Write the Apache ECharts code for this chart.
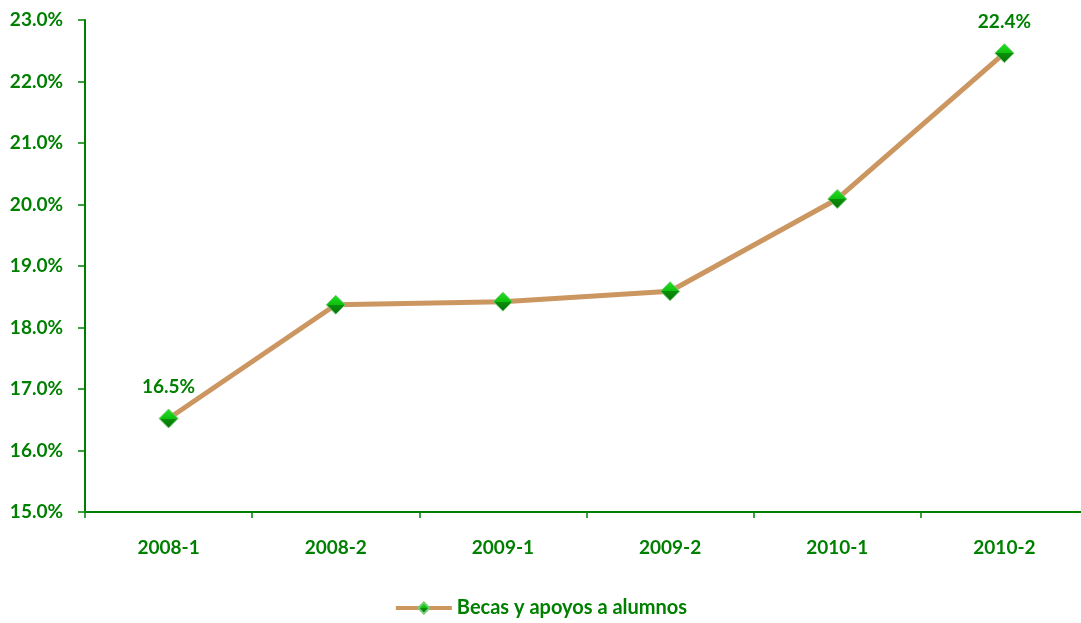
<!DOCTYPE html>
<html><head><meta charset="utf-8">
<script src="https://cdn.jsdelivr.net/npm/echarts@6/dist/echarts.min.js"></script>
<style>html,body{margin:0;padding:0;background:#fff}#c{width:1081px;height:623px}</style>
</head><body><div id="c"></div>
<script>
const categories = ['2008-1','2008-2','2009-1','2009-2','2010-1','2010-2'];
const seriesName = 'Becas y apoyos a alumnos';
const values = [16.52, 18.37, 18.42, 18.59, 20.09, 22.46];
const labeledIdx = [0, 5];

const green = '#008000';
const font = 'Lato';
const chart = echarts.init(document.getElementById('c'));
chart.setOption({
  animation: false,
  grid: { left: 85, top: 20, width: 1003, height: 492, containLabel: false, outerBoundsMode: 'none' },
  legend: {
    bottom: 0, left: 'center',
    itemWidth: 56, itemHeight: 14, itemGap: 6,
    lineStyle: { width: 4 },
    textStyle: { color: green, fontFamily: font, fontWeight: 'bold', fontSize: 20 },
    data: [seriesName]
  },
  xAxis: {
    type: 'category', data: categories, boundaryGap: true,
    axisLine: { lineStyle: { color: green, width: 2 } },
    axisTick: { show: true, length: 6, alignWithLabel: false, lineStyle: { color: green, width: 1.5 } },
    axisLabel: { color: green, fontFamily: font, fontWeight: 'bold', fontSize: 19, margin: 26 },
    splitLine: { show: false }
  },
  yAxis: {
    type: 'value', min: 15, max: 23, interval: 1,
    axisLine: { show: true, lineStyle: { color: green, width: 2 } },
    axisTick: { show: true, length: 7, lineStyle: { color: green, width: 1.5 } },
    axisLabel: { color: green, fontFamily: font, fontWeight: 'bold', fontSize: 19, margin: 22,
      formatter: v => v.toFixed(1) + '%' },
    splitLine: { show: false }
  },
  series: [{
    name: seriesName, type: 'line',
    data: values.map((v, i) => ({
      value: v,
      label: { show: labeledIdx.includes(i) }
    })),
    lineStyle: { color: '#CC9661', width: 5 },
    itemStyle: {
      color: new echarts.graphic.LinearGradient(0, 0, 0, 1, [
        { offset: 0, color: '#22E022' },
        { offset: 0.5, color: '#10C010' },
        { offset: 0.51, color: '#0A8F0A' },
        { offset: 1, color: '#087008' }
      ]),
      borderColor: '#7ACC7A', borderWidth: 1
    },
    symbol: 'diamond', symbolSize: 19,
    label: { position: 'top', distance: 12, color: green, fontFamily: font, fontWeight: 'bold', fontSize: 19,
      formatter: p => (Math.floor(p.value * 10) / 10).toFixed(1) + '%' }
  }]
});
</script></body></html>
